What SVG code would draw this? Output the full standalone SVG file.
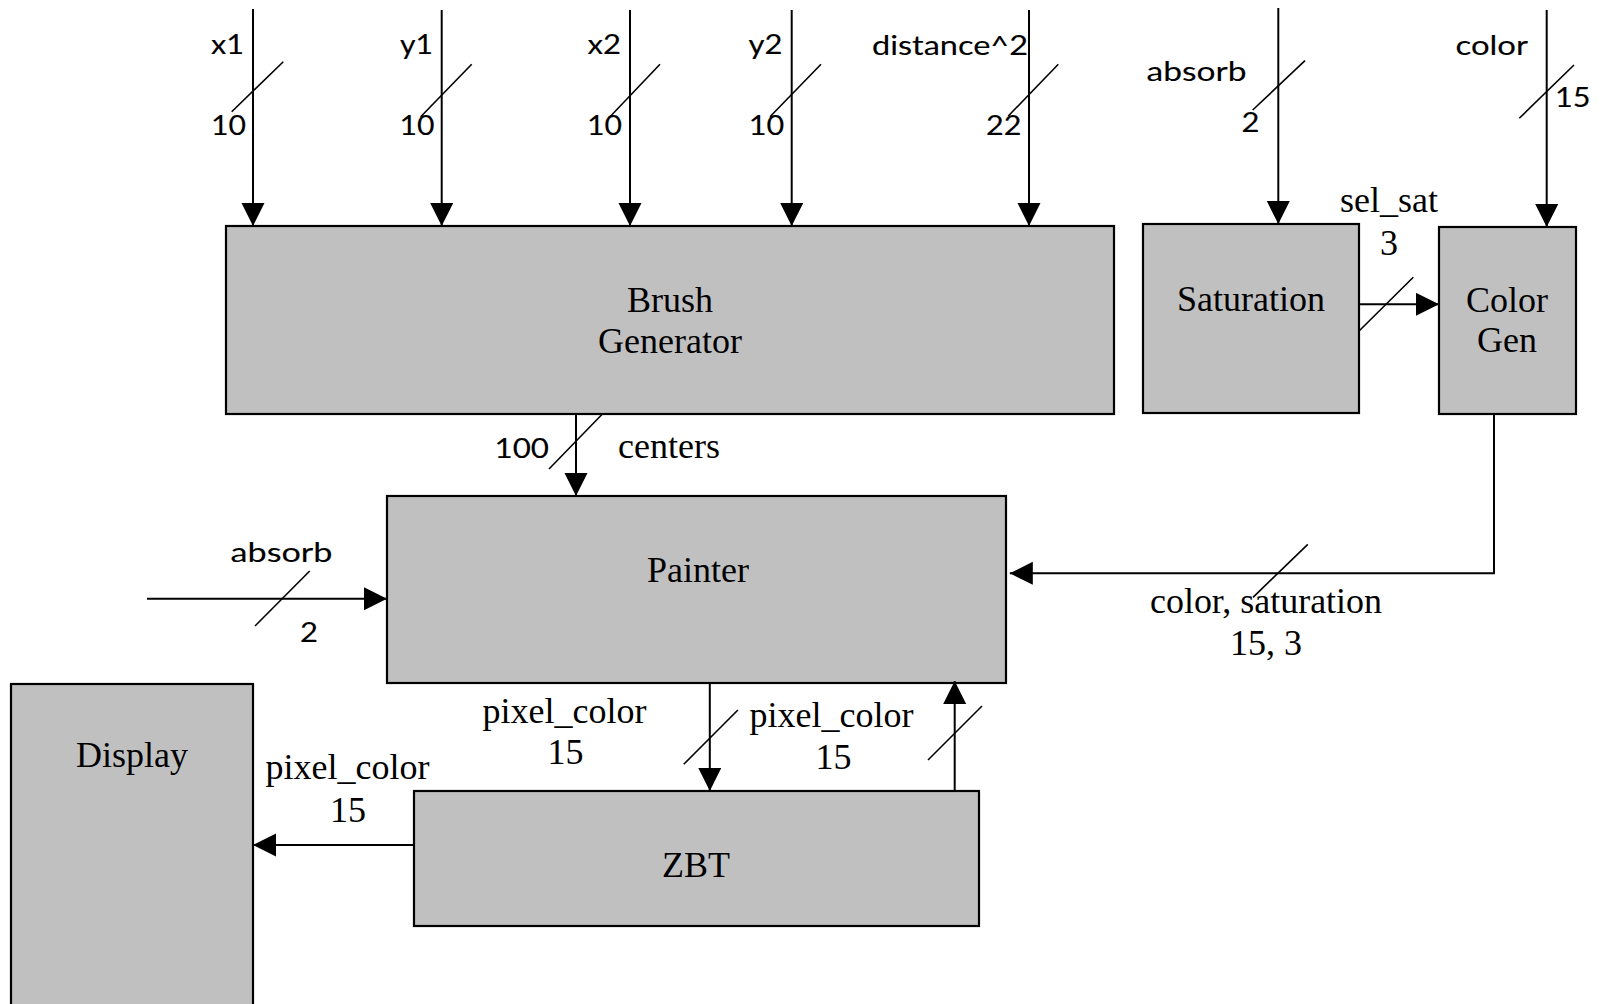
<svg xmlns="http://www.w3.org/2000/svg" width="1602" height="1004" viewBox="0 0 1602 1004">
  <style>
    .box { fill: #c0c0c0; stroke: #000; stroke-width: 2.2; }
    .wire { fill: none; stroke: #000; stroke-width: 2; }
    .tick { fill: none; stroke: #000; stroke-width: 1.6; }
    .serif { font-family: "Liberation Serif", "Times New Roman", serif; font-size: 36px; fill: #000; text-anchor: middle; }
    .sans { font-family: Lato, "Liberation Sans", sans-serif; font-size: 27px; fill: #000; stroke: #000; stroke-width: 0.12; }
  </style>
  <defs>
    <marker id="arrow" markerUnits="userSpaceOnUse" markerWidth="24" markerHeight="24" viewBox="0 0 24 24" refX="23" refY="11.5" orient="auto">
      <path d="M0,0 L23,11.5 L0,23 Z" fill="#000"/>
    </marker>
  </defs>

  <rect width="1602" height="1004" fill="#fff"/>

  <!-- blocks -->
  <g id="brush-generator">
    <rect class="box" x="226" y="226" width="888" height="188"/>
    <text class="serif" x="670" y="312">Brush</text>
    <text class="serif" x="670" y="353">Generator</text>
  </g>
  <g id="saturation">
    <rect class="box" x="1143" y="224" width="216" height="189"/>
    <text class="serif" x="1251" y="311">Saturation</text>
  </g>
  <g id="color-gen">
    <rect class="box" x="1439" y="227" width="137" height="187"/>
    <text class="serif" x="1507" y="312">Color</text>
    <text class="serif" x="1507" y="352">Gen</text>
  </g>
  <g id="painter">
    <rect class="box" x="387" y="496" width="619" height="187"/>
    <text class="serif" x="698" y="582">Painter</text>
  </g>
  <g id="zbt">
    <rect class="box" x="414" y="791" width="565" height="135"/>
    <text class="serif" x="696" y="877">ZBT</text>
  </g>
  <g id="display">
    <rect class="box" x="11" y="684" width="242" height="330"/>
    <text class="serif" x="132" y="767">Display</text>
  </g>

  <!-- connectors -->
  <g id="connectors">
    <!-- inputs to Brush Generator -->
    <line class="wire" x1="253" y1="9" x2="253" y2="226" marker-end="url(#arrow)"/>
    <line class="tick" x1="231.7" y1="111.7" x2="283.3" y2="61.7"/>
    <text class="sans" x="211" y="54" textLength="33" lengthAdjust="spacingAndGlyphs">x1</text>
    <text class="sans" x="211" y="135" textLength="35" lengthAdjust="spacingAndGlyphs">10</text>

    <line class="wire" x1="441.7" y1="10" x2="441.7" y2="226" marker-end="url(#arrow)"/>
    <line class="tick" x1="420.7" y1="116.7" x2="471.7" y2="64.3"/>
    <text class="sans" x="400" y="54" textLength="33" lengthAdjust="spacingAndGlyphs">y1</text>
    <text class="sans" x="399.5" y="135" textLength="35" lengthAdjust="spacingAndGlyphs">10</text>

    <line class="wire" x1="630" y1="10" x2="630" y2="226" marker-end="url(#arrow)"/>
    <line class="tick" x1="610" y1="116.7" x2="660" y2="64.3"/>
    <text class="sans" x="587.5" y="54" textLength="33.5" lengthAdjust="spacingAndGlyphs">x2</text>
    <text class="sans" x="587" y="135" textLength="35" lengthAdjust="spacingAndGlyphs">10</text>

    <line class="wire" x1="791.7" y1="10" x2="791.7" y2="226" marker-end="url(#arrow)"/>
    <line class="tick" x1="770" y1="116.7" x2="821" y2="64.3"/>
    <text class="sans" x="748.5" y="54" textLength="34" lengthAdjust="spacingAndGlyphs">y2</text>
    <text class="sans" x="748.7" y="135" textLength="35.5" lengthAdjust="spacingAndGlyphs">10</text>

    <line class="wire" x1="1029" y1="10" x2="1029" y2="226" marker-end="url(#arrow)"/>
    <line class="tick" x1="1008.3" y1="116" x2="1058.3" y2="64.3"/>
    <text class="sans" x="872" y="55" textLength="156" lengthAdjust="spacingAndGlyphs">distance^2</text>
    <text class="sans" x="986" y="135" textLength="35.5" lengthAdjust="spacingAndGlyphs">22</text>

    <!-- absorb into Saturation -->
    <line class="wire" x1="1278.3" y1="8" x2="1278.3" y2="224" marker-end="url(#arrow)"/>
    <line class="tick" x1="1252.7" y1="110" x2="1305" y2="60.7"/>
    <text class="sans" x="1146.5" y="81" textLength="100" lengthAdjust="spacingAndGlyphs">absorb</text>
    <text class="sans" x="1241.5" y="132" textLength="18" lengthAdjust="spacingAndGlyphs">2</text>

    <!-- color into Color Gen -->
    <line class="wire" x1="1546.7" y1="10" x2="1546.7" y2="227" marker-end="url(#arrow)"/>
    <line class="tick" x1="1519.3" y1="118.3" x2="1574" y2="65"/>
    <text class="sans" x="1455.5" y="55" textLength="72.5" lengthAdjust="spacingAndGlyphs">color</text>
    <text class="sans" x="1555" y="107" textLength="35.5" lengthAdjust="spacingAndGlyphs">15</text>

    <!-- Saturation to Color Gen -->
    <line class="wire" x1="1359" y1="304.3" x2="1439" y2="304.3" marker-end="url(#arrow)"/>
    <line class="tick" x1="1359.3" y1="330.7" x2="1413.3" y2="277.3"/>
    <text class="serif" x="1389" y="212">sel_sat</text>
    <text class="serif" x="1389" y="255">3</text>

    <!-- Brush Generator to Painter -->
    <line class="wire" x1="576" y1="414" x2="576" y2="496" marker-end="url(#arrow)"/>
    <line class="tick" x1="549" y1="469" x2="602.4" y2="414"/>
    <text class="sans" x="494.5" y="458" textLength="54.5" lengthAdjust="spacingAndGlyphs">100</text>
    <text class="serif" x="669" y="458">centers</text>

    <!-- absorb into Painter -->
    <line class="wire" x1="147" y1="598.7" x2="387" y2="598.7" marker-end="url(#arrow)"/>
    <line class="tick" x1="255" y1="626" x2="309.7" y2="571"/>
    <text class="sans" x="230.5" y="562" textLength="102" lengthAdjust="spacingAndGlyphs">absorb</text>
    <text class="sans" x="300" y="642" textLength="18" lengthAdjust="spacingAndGlyphs">2</text>

    <!-- Color Gen to Painter -->
    <polyline class="wire" points="1494,414 1494,573.3 1009.8,573.3" marker-end="url(#arrow)"/>
    <line class="tick" x1="1253" y1="597.3" x2="1307.8" y2="544.3"/>
    <text class="serif" x="1266" y="613" textLength="232" lengthAdjust="spacingAndGlyphs">color, saturation</text>
    <text class="serif" x="1266" y="655">15, 3</text>

    <!-- Painter to ZBT -->
    <line class="wire" x1="709.8" y1="683" x2="709.8" y2="791" marker-end="url(#arrow)"/>
    <line class="tick" x1="683.7" y1="764.3" x2="737.9" y2="710"/>
    <text class="serif" x="564.4" y="723">pixel_color</text>
    <text class="serif" x="565.6" y="764">15</text>

    <!-- ZBT to Painter -->
    <line class="wire" x1="954.7" y1="791" x2="954.7" y2="681" marker-end="url(#arrow)"/>
    <line class="tick" x1="928" y1="760" x2="982" y2="706"/>
    <text class="serif" x="831.4" y="727">pixel_color</text>
    <text class="serif" x="833.5" y="769">15</text>

    <!-- ZBT to Display -->
    <line class="wire" x1="414" y1="845" x2="253" y2="845" marker-end="url(#arrow)"/>
    <text class="serif" x="347.6" y="779">pixel_color</text>
    <text class="serif" x="348" y="822">15</text>
  </g>
</svg>
